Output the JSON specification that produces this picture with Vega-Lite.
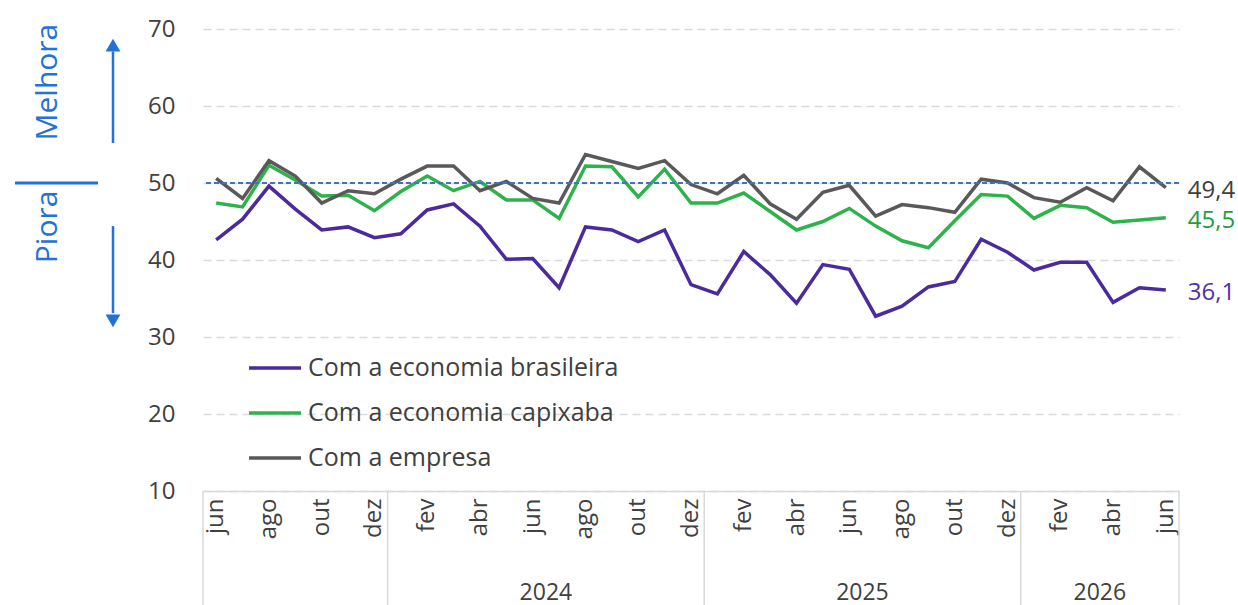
{
  "$schema": "https://vega.github.io/schema/vega-lite/v6.json",
  "padding": {"left": 0, "top": 17, "right": 0, "bottom": 0},
  "bounds": "flush",
  "spacing": 63,
  "config": {
    "view": {"stroke": null},
    "font": "Open Sans",
    "locale": {"number": {"decimal": ",", "thousands": ".", "grouping": [3], "currency": ["R$", ""]}}
  },
  "hconcat": [
    {
      "width": 140,
      "height": 462,
      "data": {"values": [{}]},
      "layer": [
        {
          "mark": {"type": "rule", "color": "#2272D9", "strokeWidth": 3},
          "encoding": {
            "x": {"datum": 1.5, "type": "quantitative", "scale": {"domain": [0, 14]}, "axis": null},
            "x2": {"datum": 9.8},
            "y": {"datum": 50, "type": "quantitative", "scale": {"domain": [10, 70]}, "axis": null}
          }
        },
        {
          "mark": {"type": "text", "text": "Melhora", "angle": 270, "fontSize": 30, "color": "#2272D9", "align": "center", "baseline": "middle"},
          "encoding": {
            "x": {"datum": 4.8, "type": "quantitative", "scale": {"domain": [0, 14]}, "axis": null},
            "y": {"datum": 63.1, "type": "quantitative", "scale": {"domain": [10, 70]}, "axis": null}
          }
        },
        {
          "mark": {"type": "text", "text": "Piora", "angle": 270, "fontSize": 30, "color": "#2272D9", "align": "center", "baseline": "middle"},
          "encoding": {
            "x": {"datum": 4.8, "type": "quantitative", "scale": {"domain": [0, 14]}, "axis": null},
            "y": {"datum": 44.3, "type": "quantitative", "scale": {"domain": [10, 70]}, "axis": null}
          }
        },
        {
          "mark": {"type": "rule", "color": "#2272D9", "strokeWidth": 2.5},
          "encoding": {
            "x": {"datum": 11.3, "type": "quantitative", "scale": {"domain": [0, 14]}, "axis": null},
            "y": {"datum": 55.2, "type": "quantitative", "scale": {"domain": [10, 70]}, "axis": null},
            "y2": {"datum": 67.1}
          }
        },
        {
          "mark": {"type": "point", "shape": "triangle-up", "filled": true, "size": 220, "color": "#2272D9", "opacity": 1},
          "encoding": {
            "x": {"datum": 11.3, "type": "quantitative", "scale": {"domain": [0, 14]}, "axis": null},
            "y": {"datum": 67.9, "type": "quantitative", "scale": {"domain": [10, 70]}, "axis": null}
          }
        },
        {
          "mark": {"type": "rule", "color": "#2272D9", "strokeWidth": 2.5},
          "encoding": {
            "x": {"datum": 11.3, "type": "quantitative", "scale": {"domain": [0, 14]}, "axis": null},
            "y": {"datum": 44.4, "type": "quantitative", "scale": {"domain": [10, 70]}, "axis": null},
            "y2": {"datum": 33.1}
          }
        },
        {
          "mark": {"type": "point", "shape": "triangle-down", "filled": true, "size": 220, "color": "#2272D9", "opacity": 1},
          "encoding": {
            "x": {"datum": 11.3, "type": "quantitative", "scale": {"domain": [0, 14]}, "axis": null},
            "y": {"datum": 32.1, "type": "quantitative", "scale": {"domain": [10, 70]}, "axis": null}
          }
        }
      ]
    },
    {
      "width": 976,
      "height": 462,
      "data": {"values": [
        {"m": "2023-06", "serie": "Com a economia brasileira", "v": 42.6},
        {"m": "2023-07", "serie": "Com a economia brasileira", "v": 45.3},
        {"m": "2023-08", "serie": "Com a economia brasileira", "v": 49.6},
        {"m": "2023-09", "serie": "Com a economia brasileira", "v": 46.6},
        {"m": "2023-10", "serie": "Com a economia brasileira", "v": 43.9},
        {"m": "2023-11", "serie": "Com a economia brasileira", "v": 44.3},
        {"m": "2023-12", "serie": "Com a economia brasileira", "v": 42.9},
        {"m": "2024-01", "serie": "Com a economia brasileira", "v": 43.4},
        {"m": "2024-02", "serie": "Com a economia brasileira", "v": 46.5},
        {"m": "2024-03", "serie": "Com a economia brasileira", "v": 47.3},
        {"m": "2024-04", "serie": "Com a economia brasileira", "v": 44.4},
        {"m": "2024-05", "serie": "Com a economia brasileira", "v": 40.1},
        {"m": "2024-06", "serie": "Com a economia brasileira", "v": 40.2},
        {"m": "2024-07", "serie": "Com a economia brasileira", "v": 36.4},
        {"m": "2024-08", "serie": "Com a economia brasileira", "v": 44.3},
        {"m": "2024-09", "serie": "Com a economia brasileira", "v": 43.9},
        {"m": "2024-10", "serie": "Com a economia brasileira", "v": 42.4},
        {"m": "2024-11", "serie": "Com a economia brasileira", "v": 43.9},
        {"m": "2024-12", "serie": "Com a economia brasileira", "v": 36.8},
        {"m": "2025-01", "serie": "Com a economia brasileira", "v": 35.6},
        {"m": "2025-02", "serie": "Com a economia brasileira", "v": 41.1},
        {"m": "2025-03", "serie": "Com a economia brasileira", "v": 38.1},
        {"m": "2025-04", "serie": "Com a economia brasileira", "v": 34.4},
        {"m": "2025-05", "serie": "Com a economia brasileira", "v": 39.4},
        {"m": "2025-06", "serie": "Com a economia brasileira", "v": 38.8},
        {"m": "2025-07", "serie": "Com a economia brasileira", "v": 32.7},
        {"m": "2025-08", "serie": "Com a economia brasileira", "v": 34.0},
        {"m": "2025-09", "serie": "Com a economia brasileira", "v": 36.5},
        {"m": "2025-10", "serie": "Com a economia brasileira", "v": 37.2},
        {"m": "2025-11", "serie": "Com a economia brasileira", "v": 42.7},
        {"m": "2025-12", "serie": "Com a economia brasileira", "v": 41.0},
        {"m": "2026-01", "serie": "Com a economia brasileira", "v": 38.7},
        {"m": "2026-02", "serie": "Com a economia brasileira", "v": 39.7},
        {"m": "2026-03", "serie": "Com a economia brasileira", "v": 39.7},
        {"m": "2026-04", "serie": "Com a economia brasileira", "v": 34.5},
        {"m": "2026-05", "serie": "Com a economia brasileira", "v": 36.4},
        {"m": "2026-06", "serie": "Com a economia brasileira", "v": 36.1},
        {"m": "2023-06", "serie": "Com a economia capixaba", "v": 47.4},
        {"m": "2023-07", "serie": "Com a economia capixaba", "v": 46.9},
        {"m": "2023-08", "serie": "Com a economia capixaba", "v": 52.3},
        {"m": "2023-09", "serie": "Com a economia capixaba", "v": 50.4},
        {"m": "2023-10", "serie": "Com a economia capixaba", "v": 48.3},
        {"m": "2023-11", "serie": "Com a economia capixaba", "v": 48.4},
        {"m": "2023-12", "serie": "Com a economia capixaba", "v": 46.4},
        {"m": "2024-01", "serie": "Com a economia capixaba", "v": 48.9},
        {"m": "2024-02", "serie": "Com a economia capixaba", "v": 50.9},
        {"m": "2024-03", "serie": "Com a economia capixaba", "v": 49.0},
        {"m": "2024-04", "serie": "Com a economia capixaba", "v": 50.2},
        {"m": "2024-05", "serie": "Com a economia capixaba", "v": 47.8},
        {"m": "2024-06", "serie": "Com a economia capixaba", "v": 47.8},
        {"m": "2024-07", "serie": "Com a economia capixaba", "v": 45.4},
        {"m": "2024-08", "serie": "Com a economia capixaba", "v": 52.2},
        {"m": "2024-09", "serie": "Com a economia capixaba", "v": 52.1},
        {"m": "2024-10", "serie": "Com a economia capixaba", "v": 48.2},
        {"m": "2024-11", "serie": "Com a economia capixaba", "v": 51.8},
        {"m": "2024-12", "serie": "Com a economia capixaba", "v": 47.4},
        {"m": "2025-01", "serie": "Com a economia capixaba", "v": 47.4},
        {"m": "2025-02", "serie": "Com a economia capixaba", "v": 48.7},
        {"m": "2025-03", "serie": "Com a economia capixaba", "v": 46.3},
        {"m": "2025-04", "serie": "Com a economia capixaba", "v": 43.9},
        {"m": "2025-05", "serie": "Com a economia capixaba", "v": 45.0},
        {"m": "2025-06", "serie": "Com a economia capixaba", "v": 46.7},
        {"m": "2025-07", "serie": "Com a economia capixaba", "v": 44.4},
        {"m": "2025-08", "serie": "Com a economia capixaba", "v": 42.5},
        {"m": "2025-09", "serie": "Com a economia capixaba", "v": 41.6},
        {"m": "2025-10", "serie": "Com a economia capixaba", "v": 45.1},
        {"m": "2025-11", "serie": "Com a economia capixaba", "v": 48.5},
        {"m": "2025-12", "serie": "Com a economia capixaba", "v": 48.3},
        {"m": "2026-01", "serie": "Com a economia capixaba", "v": 45.4},
        {"m": "2026-02", "serie": "Com a economia capixaba", "v": 47.1},
        {"m": "2026-03", "serie": "Com a economia capixaba", "v": 46.8},
        {"m": "2026-04", "serie": "Com a economia capixaba", "v": 44.9},
        {"m": "2026-05", "serie": "Com a economia capixaba", "v": 45.2},
        {"m": "2026-06", "serie": "Com a economia capixaba", "v": 45.5},
        {"m": "2023-06", "serie": "Com a empresa", "v": 50.6},
        {"m": "2023-07", "serie": "Com a empresa", "v": 48.0},
        {"m": "2023-08", "serie": "Com a empresa", "v": 52.9},
        {"m": "2023-09", "serie": "Com a empresa", "v": 50.9},
        {"m": "2023-10", "serie": "Com a empresa", "v": 47.4},
        {"m": "2023-11", "serie": "Com a empresa", "v": 49.0},
        {"m": "2023-12", "serie": "Com a empresa", "v": 48.6},
        {"m": "2024-01", "serie": "Com a empresa", "v": 50.5},
        {"m": "2024-02", "serie": "Com a empresa", "v": 52.2},
        {"m": "2024-03", "serie": "Com a empresa", "v": 52.2},
        {"m": "2024-04", "serie": "Com a empresa", "v": 49.0},
        {"m": "2024-05", "serie": "Com a empresa", "v": 50.2},
        {"m": "2024-06", "serie": "Com a empresa", "v": 48.0},
        {"m": "2024-07", "serie": "Com a empresa", "v": 47.4},
        {"m": "2024-08", "serie": "Com a empresa", "v": 53.7},
        {"m": "2024-09", "serie": "Com a empresa", "v": 52.8},
        {"m": "2024-10", "serie": "Com a empresa", "v": 51.9},
        {"m": "2024-11", "serie": "Com a empresa", "v": 52.9},
        {"m": "2024-12", "serie": "Com a empresa", "v": 49.8},
        {"m": "2025-01", "serie": "Com a empresa", "v": 48.6},
        {"m": "2025-02", "serie": "Com a empresa", "v": 51.0},
        {"m": "2025-03", "serie": "Com a empresa", "v": 47.3},
        {"m": "2025-04", "serie": "Com a empresa", "v": 45.3},
        {"m": "2025-05", "serie": "Com a empresa", "v": 48.8},
        {"m": "2025-06", "serie": "Com a empresa", "v": 49.7},
        {"m": "2025-07", "serie": "Com a empresa", "v": 45.7},
        {"m": "2025-08", "serie": "Com a empresa", "v": 47.2},
        {"m": "2025-09", "serie": "Com a empresa", "v": 46.8},
        {"m": "2025-10", "serie": "Com a empresa", "v": 46.2},
        {"m": "2025-11", "serie": "Com a empresa", "v": 50.5},
        {"m": "2025-12", "serie": "Com a empresa", "v": 50.0},
        {"m": "2026-01", "serie": "Com a empresa", "v": 48.1},
        {"m": "2026-02", "serie": "Com a empresa", "v": 47.5},
        {"m": "2026-03", "serie": "Com a empresa", "v": 49.4},
        {"m": "2026-04", "serie": "Com a empresa", "v": 47.7},
        {"m": "2026-05", "serie": "Com a empresa", "v": 52.1},
        {"m": "2026-06", "serie": "Com a empresa", "v": 49.4}
      ]},
      "layer": [
        {
          "mark": {"type": "line", "strokeWidth": 3.5, "strokeJoin": "miter", "strokeCap": "butt"},
          "encoding": {
            "x": {
              "field": "m", "type": "ordinal", "title": null, "bandPosition": 0.5,
              "scale": {"type": "band", "paddingInner": 0, "paddingOuter": 0},
              "axis": {
                "labelExpr": "toNumber(slice(datum.value,5,7)) % 2 == 0 ? ['jan','fev','mar','abr','mai','jun','jul','ago','set','out','nov','dez'][toNumber(slice(datum.value,5,7))-1] : ''",
                "labelAngle": 270, "labelFontSize": 24, "labelColor": "#404040", "labelPadding": 7,
                "labelOverlap": false, "labelBound": false, "labelFlush": false,
                "ticks": false, "domainColor": "#D9D9D9", "domainWidth": 1.5, "grid": false
              }
            },
            "y": {
              "field": "v", "type": "quantitative", "title": null,
              "scale": {"domain": [10, 70], "nice": false, "zero": false},
              "axis": {
                "values": [10, 20, 30, 40, 50, 60, 70], "labelFontSize": 24, "labelColor": "#404040",
                "labelPadding": 28, "ticks": false, "domain": false,
                "grid": true, "gridColor": "#D9D9D9", "gridDash": [8, 5], "gridWidth": 1.5
              }
            },
            "color": {
              "field": "serie", "type": "nominal",
              "scale": {"domain": ["Com a economia brasileira", "Com a economia capixaba", "Com a empresa"], "range": ["#4B2A9C", "#2EB24B", "#595959"]},
              "legend": {
                "title": null, "orient": "none", "legendX": 44, "legendY": 311,
                "symbolType": "stroke", "symbolSize": 2704, "symbolStrokeWidth": 3.5,
                "labelFontSize": 25, "labelColor": "#404040", "labelOffset": 5, "rowPadding": 4, "labelLimit": 400
              }
            }
          }
        },
        {
          "mark": {"type": "rule", "color": "#4472C4", "strokeWidth": 1.3, "strokeDash": [5, 3]},
          "encoding": {
            "y": {"datum": 50, "type": "quantitative", "title": null}
          }
        },
        {
          "data": {"values": [{"m": "2023-06"}, {"m": "2024-01"}, {"m": "2025-01"}, {"m": "2026-01"}]},
          "mark": {"type": "rule", "color": "#D9D9D9", "strokeWidth": 1.5},
          "encoding": {
            "x": {"field": "m", "type": "ordinal", "title": null, "bandPosition": 0},
            "y": {"datum": 10, "type": "quantitative", "title": null},
            "y2": {"datum": -5}
          }
        },
        {
          "data": {"values": [{"m": "2026-06"}]},
          "mark": {"type": "rule", "color": "#D9D9D9", "strokeWidth": 1.5},
          "encoding": {
            "x": {"field": "m", "type": "ordinal", "title": null, "bandPosition": 1},
            "y": {"datum": 10, "type": "quantitative", "title": null},
            "y2": {"datum": -5}
          }
        },
        {
          "data": {"values": [{"m": "2024-06", "ano": "2024"}, {"m": "2025-06", "ano": "2025"}, {"m": "2026-03", "ano": "2026"}]},
          "mark": {"type": "text", "fontSize": 23, "color": "#404040", "align": "center", "baseline": "middle"},
          "encoding": {
            "x": {"field": "m", "type": "ordinal", "title": null, "bandPosition": 1},
            "y": {"datum": -3.3, "type": "quantitative", "title": null},
            "text": {"field": "ano"}
          }
        },
        {
          "transform": [{"filter": "datum.m == '2026-06'"}],
          "mark": {"type": "text", "fontSize": 24, "align": "left", "baseline": "middle", "dx": 22, "dy": 3},
          "encoding": {
            "x": {"field": "m", "type": "ordinal", "title": null, "bandPosition": 0.5},
            "y": {"field": "v", "type": "quantitative", "title": null},
            "text": {"field": "v", "type": "quantitative", "format": ".1f"},
            "color": {
              "field": "serie", "type": "nominal", "legend": null,
              "scale": {"domain": ["Com a economia brasileira", "Com a economia capixaba", "Com a empresa"], "range": ["#5131A6", "#1F9E3F", "#404040"]}
            }
          }
        }
      ],
      "resolve": {"scale": {"color": "independent"}}
    }
  ]
}
